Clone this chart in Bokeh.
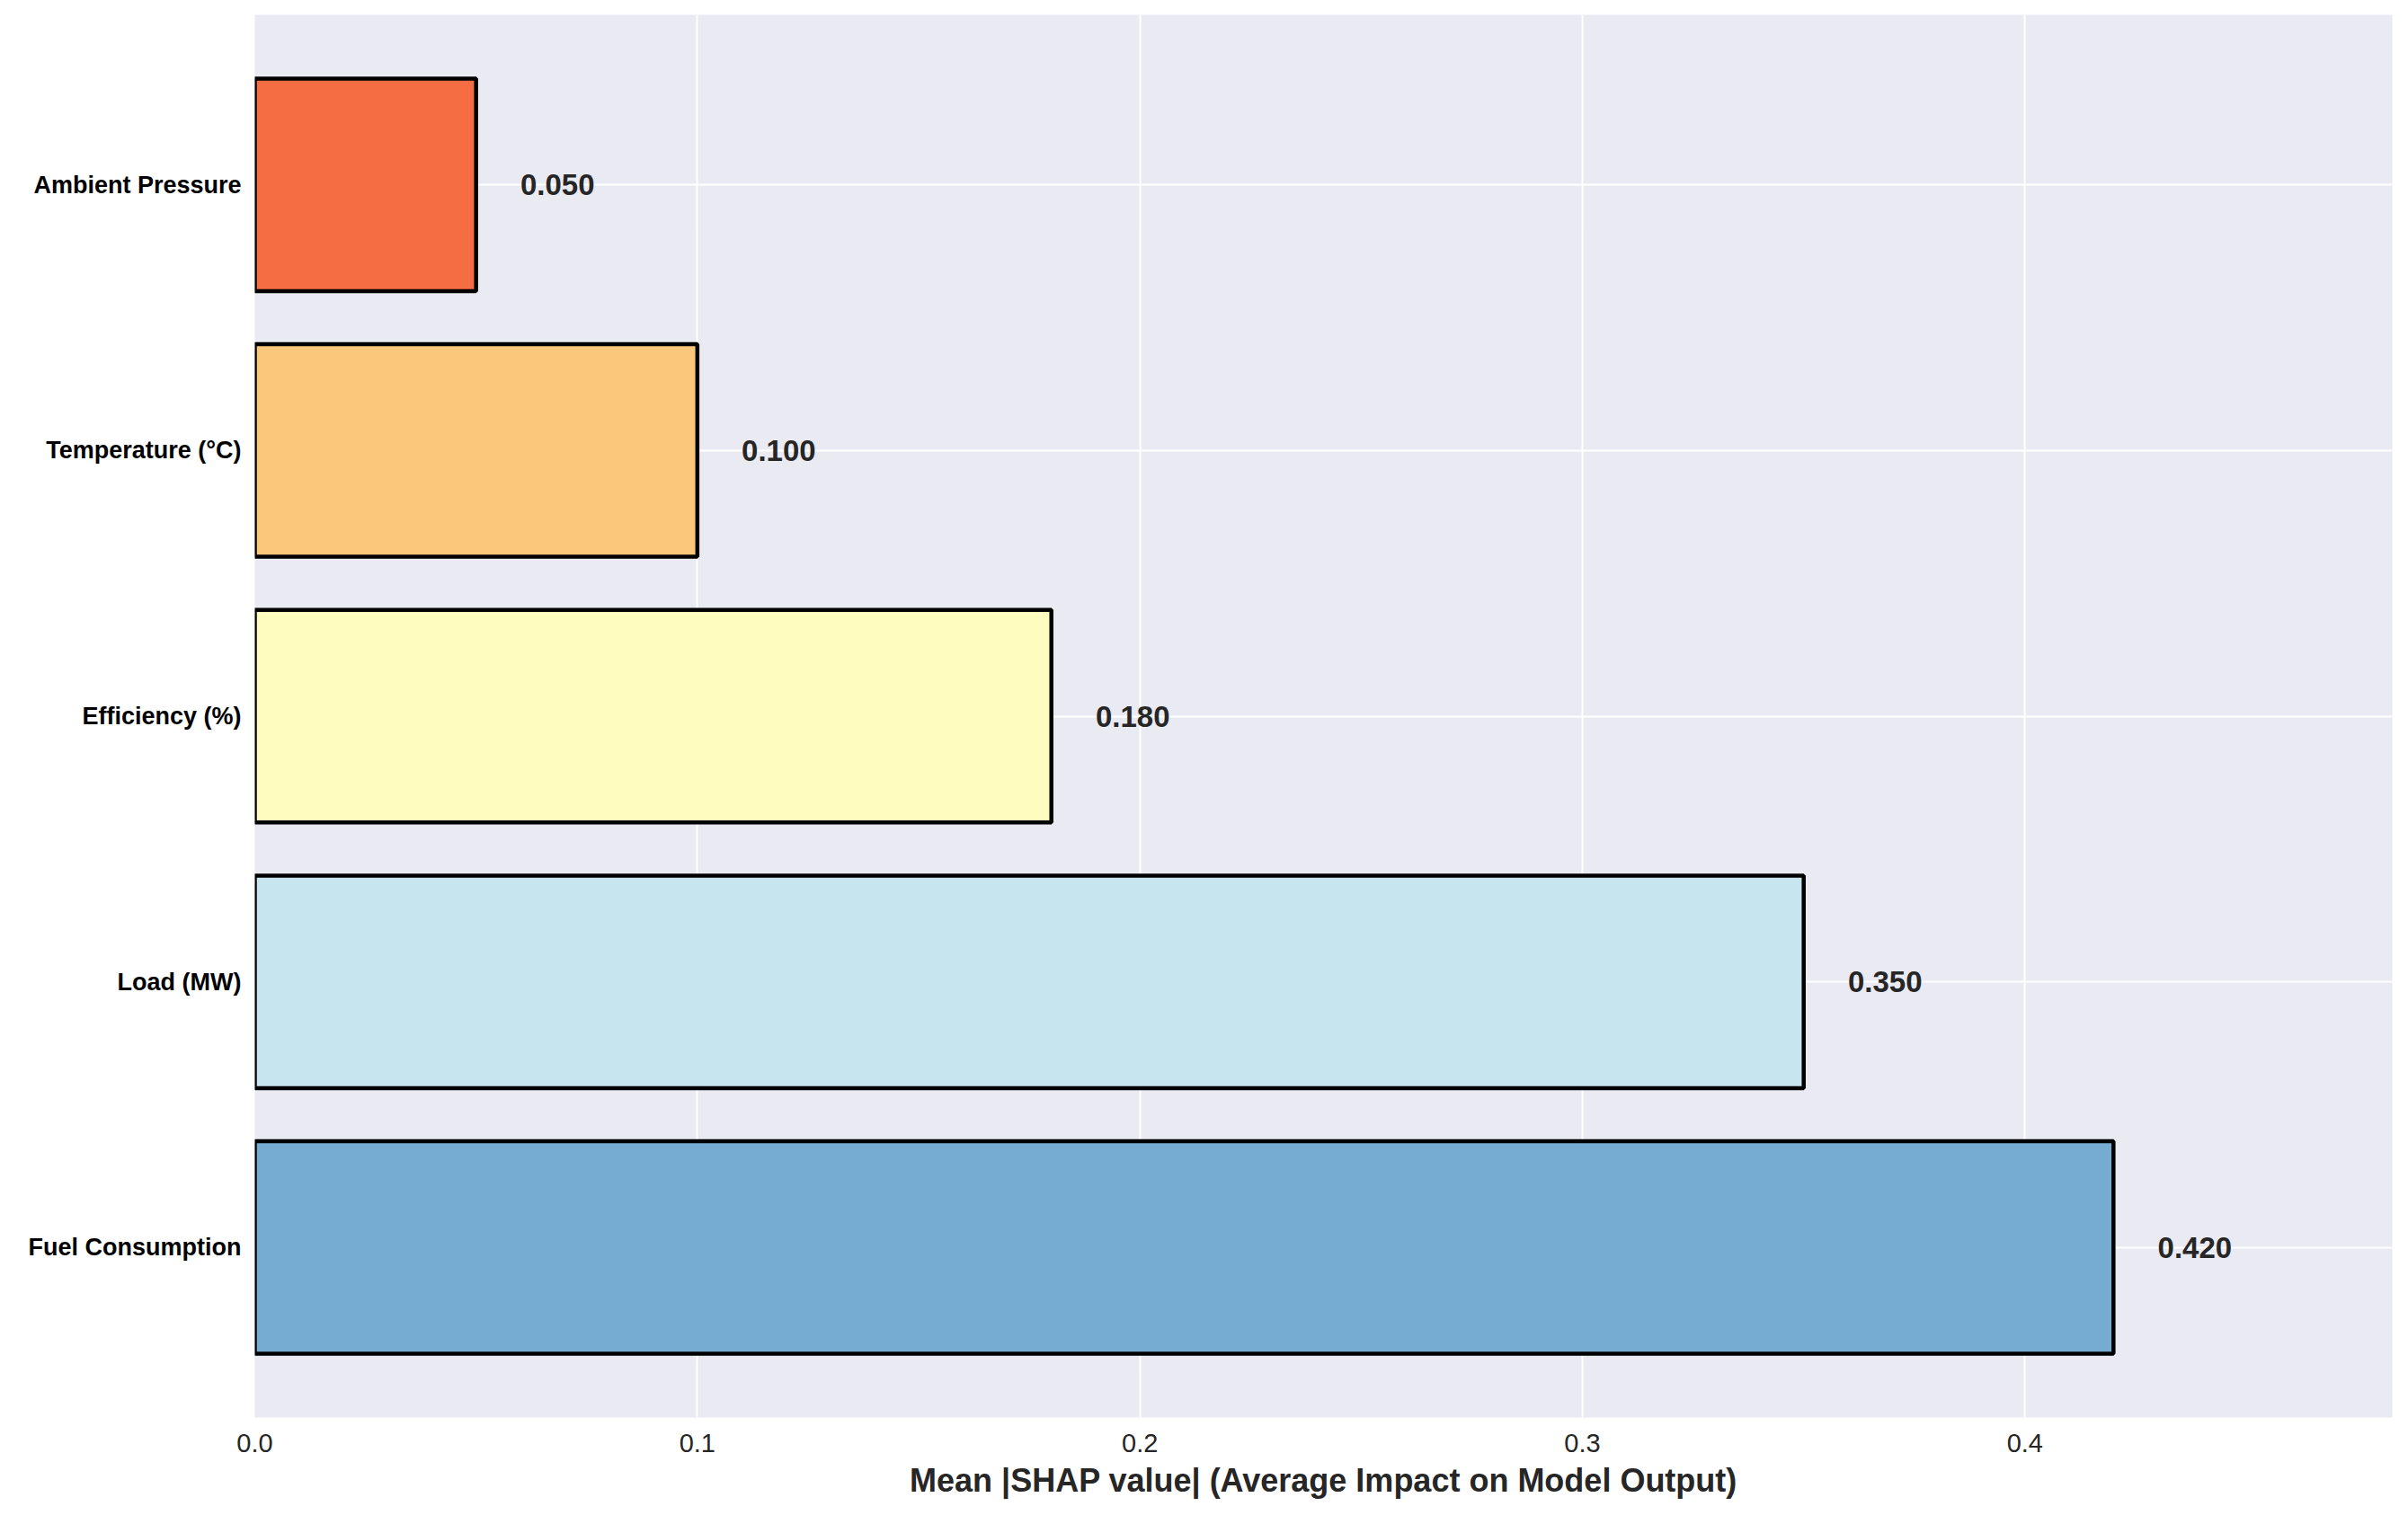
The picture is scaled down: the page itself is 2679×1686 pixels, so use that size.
from bokeh.plotting import figure
from bokeh.models import ColumnDataSource, FixedTicker, PrintfTickFormatter, Range1d
from bokeh.embed import file_html
from bokeh.resources import INLINE
from bokeh.core.properties import value

features = ["Fuel Consumption", "Load (MW)", "Efficiency (%)", "Temperature (°C)", "Ambient Pressure"]
shap_values = [0.42, 0.35, 0.18, 0.10, 0.05]
bar_colors = ["#76acd1", "#c6e5ef", "#fefcbf", "#fbc77b", "#f46d43"]
x_ticks = [0.0, 0.1, 0.2, 0.3, 0.4]

positions = list(range(len(features)))
labels = ["%.3f" % v for v in shap_values]
label_x = [v + 0.01 for v in shap_values]

src = ColumnDataSource(dict(y=positions, v=shap_values, c=bar_colors, lx=label_x, lab=labels))

W, H = 2663, 1670
p = figure(width=W, height=H, output_backend="svg", toolbar_location=None,
           x_range=Range1d(0, max(shap_values) * 1.15),
           y_range=Range1d(-0.64, len(features) - 1 + 0.64),
           min_border_left=283, min_border_right=2, min_border_top=16, min_border_bottom=93)

p.background_fill_color = "#eaeaf2"
p.border_fill_color = "white"
p.outline_line_color = None

p.hbar(y="y", right="v", left=0, height=0.8, source=src, fill_color="c",
       line_color="black", line_width=4.5)

p.text(x="lx", y="y", text="lab", source=src, text_align="left", text_baseline="middle",
       text_font=value("Liberation Sans"), text_font_style="bold", text_font_size="33px",
       text_color="#262626")

# grid
p.xgrid.ticker = FixedTicker(ticks=x_ticks)
p.ygrid.ticker = FixedTicker(ticks=positions)
p.xgrid.grid_line_color = "white"
p.ygrid.grid_line_color = "white"
p.xgrid.grid_line_width = 2
p.ygrid.grid_line_width = 2

# x axis
xa = p.xaxis[0]
xa.ticker = FixedTicker(ticks=x_ticks)
xa.formatter = PrintfTickFormatter(format="%.1f")
xa.axis_line_color = None
xa.major_tick_line_color = None
xa.minor_tick_line_color = None
xa.major_label_text_font = "Liberation Sans"
xa.major_label_text_font_size = "29px"
xa.major_label_text_color = "#262626"
xa.major_label_standoff = 12
xa.axis_label = "Mean |SHAP value| (Average Impact on Model Output)"
xa.axis_label_text_font = "Liberation Sans"
xa.axis_label_text_font_style = "bold"
xa.axis_label_text_font_size = "36px"
xa.axis_label_text_color = "#262626"
xa.axis_label_standoff = 8

# y axis
ya = p.yaxis[0]
ya.ticker = FixedTicker(ticks=positions)
ya.major_label_overrides = {i: f for i, f in zip(positions, features)}
ya.axis_line_color = None
ya.major_tick_line_color = None
ya.minor_tick_line_color = None
ya.major_label_text_font = "Liberation Sans"
ya.major_label_text_font_style = "bold"
ya.major_label_text_font_size = "27px"
ya.major_label_text_color = "black"
ya.major_label_standoff = 9

open("out.html", "w").write(file_html(p, INLINE))
